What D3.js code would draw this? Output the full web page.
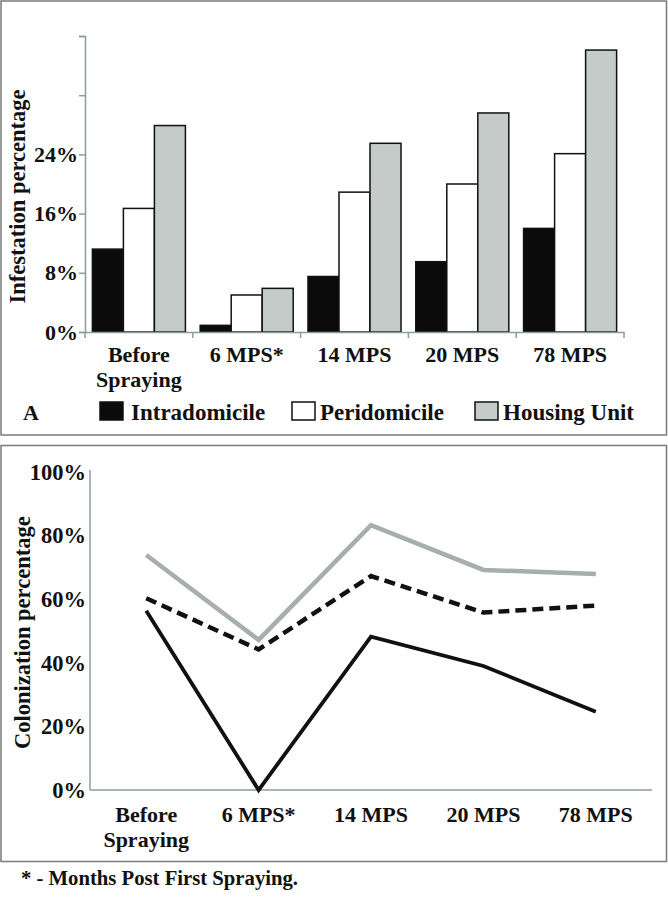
<!DOCTYPE html>
<html>
<head>
<meta charset="utf-8">
<script src="https://cdn.jsdelivr.net/npm/d3@7"></script>
<style>
  html, body { margin: 0; padding: 0; background: #fff; }
  svg { display: block; }
  text { font-family: "Liberation Serif", "Times New Roman", serif; font-weight: bold; fill: #111; }
</style>
</head>
<body>
<script>
// ---------- data ----------
const categories = ["Before Spraying", "6 MPS*", "14 MPS", "20 MPS", "78 MPS"];
const seriesNames = ["Intradomicile", "Peridomicile", "Housing Unit"];
// Panel A: infestation percentage (%)
const infestIntra   = [11.2, 0.9, 7.5, 9.5, 14.0];
const infestPeri    = [16.7, 5.0, 18.9, 20.0, 24.1];
const infestHousing = [27.9, 5.9, 25.5, 29.6, 38.1];
const infestTicks   = [0, 8, 16, 24, 32, 40];
const infestLabelled = [0, 8, 16, 24];
// Panel B: colonization percentage (%)
const colonIntra   = [56.4, 0.0, 48.2, 39.0, 24.6];
const colonPeri    = [60.3, 44.2, 67.3, 55.8, 58.0];
const colonHousing = [73.9, 47.2, 83.3, 69.2, 67.9];
const colonTicks   = [0, 20, 40, 60, 80, 100];
const footnote = "* - Months Post First Spraying.";
const panelLetter = "A";

const barFill = ["#0b0b0b", "#ffffff", "#c4cbc9"];
const axisColor = "#8d9d9d";

const svg = d3.select("body").append("svg").attr("width", 668).attr("height", 900);

// panel frames
svg.append("rect").attr("x", 1).attr("y", 1).attr("width", 665.5).attr("height", 434)
  .attr("fill", "none").attr("stroke", "#7a7a7a").attr("stroke-width", 1.5);
svg.append("rect").attr("x", 1).attr("y", 445.5).attr("width", 665.5).attr("height", 416)
  .attr("fill", "none").attr("stroke", "#7a7a7a").attr("stroke-width", 1.5);

// ---------- Panel A: grouped bars ----------
const x0 = d3.scaleBand().domain(categories).range([85, 624]).paddingInner(0.137).paddingOuter(0.0685);
const x1 = d3.scaleBand().domain(seriesNames).range([0, x0.bandwidth()]);
const yA = d3.scaleLinear().domain([0, 40]).range([332, 36]);

const barData = categories.map((c, i) => ({
  cat: c,
  vals: [infestIntra[i], infestPeri[i], infestHousing[i]]
}));

const gA = svg.append("g");
const groups = gA.selectAll("g.grp").data(barData).join("g")
  .attr("transform", d => `translate(${x0(d.cat)},0)`);
groups.selectAll("rect").data(d => d.vals.map((v, k) => ({ s: seriesNames[k], v, k }))).join("rect")
  .attr("x", d => x1(d.s))
  .attr("y", d => yA(d.v))
  .attr("width", x1.bandwidth())
  .attr("height", d => yA(0) - yA(d.v))
  .attr("fill", d => barFill[d.k])
  .attr("stroke", "#111")
  .attr("stroke-width", 1.5);

// y axis A
const yAxisA = d3.axisLeft(yA).tickValues(infestTicks).tickSize(6).tickPadding(1)
  .tickFormat(d => infestLabelled.includes(d) ? d + "%" : "");
const gyA = svg.append("g").attr("transform", "translate(85,0)").call(yAxisA);
gyA.select(".domain").attr("stroke", axisColor).attr("stroke-width", 1.5);
gyA.selectAll(".tick line").attr("stroke", axisColor).attr("stroke-width", 1.5);
gyA.selectAll(".tick text").attr("font-size", 22).attr("fill", "#111")
  .style("font-family", '"Liberation Serif", serif').style("font-weight", "bold");

// x axis A
const xAxisA = d3.axisBottom(x0).tickSize(0).tickPadding(0);
const gxA = svg.append("g").attr("transform", "translate(0,332)").call(xAxisA);
gxA.select(".domain").attr("stroke", axisColor).attr("stroke-width", 1.5);
// boundary ticks
const bounds = d3.range(categories.length + 1).map(i => x0.range()[0] + i * x0.step());
gxA.selectAll("line.bt").data(bounds).join("line").attr("class", "bt")
  .attr("x1", d => d).attr("x2", d => d).attr("y1", 0).attr("y2", 6)
  .attr("stroke", axisColor).attr("stroke-width", 1.5);

function wrapLabels(sel, base) {
  sel.selectAll(".tick text").each(function(d) {
    const t = d3.select(this);
    t.text(null).attr("y", base).attr("dy", null)
      .attr("font-size", 22).attr("fill", "#111")
      .style("font-family", '"Liberation Serif", serif').style("font-weight", "bold");
    const words = d === "Before Spraying" ? ["Before", "Spraying"] : [d];
    words.forEach((w, i) => {
      t.append("tspan").attr("x", 0).attr("dy", i === 0 ? 0 : 25.5).text(w);
    });
  });
}
wrapLabels(gxA, 29.7);

// y title A
svg.append("text").attr("transform", "translate(17.5,196.5) rotate(-90)")
  .attr("text-anchor", "middle").attr("dominant-baseline", "central")
  .attr("font-size", 22.5).text("Infestation percentage");

// legend
svg.append("text").attr("x", 23).attr("y", 420).attr("font-size", 22).text(panelLetter);
const legX = [100, 292, 475];
const legTextX = [131, 320, 503];
const leg = svg.append("g").selectAll("g").data(seriesNames).join("g");
leg.append("rect")
  .attr("x", (d, i) => legX[i]).attr("y", 402).attr("width", 23).attr("height", 18)
  .attr("fill", (d, i) => barFill[i]).attr("stroke", "#111").attr("stroke-width", 1.5);
leg.append("text")
  .attr("x", (d, i) => legTextX[i]).attr("y", 420).attr("font-size", 23).text(d => d);

// ---------- Panel B: lines ----------
const xB = d3.scalePoint().domain(categories).range([90, 652]).padding(0.5);
const yB = d3.scaleLinear().domain([0, 100]).range([790, 472]);

const gyB = svg.append("g").attr("transform", "translate(90,0)")
  .call(d3.axisLeft(yB).tickValues(colonTicks).tickSize(0).tickPadding(4).tickFormat(d => d + "%"));
gyB.select(".domain").attr("stroke", axisColor).attr("stroke-width", 1.5)
  .attr("d", `M0,${yB(0)}V${yB(100) - 2}`);
gyB.selectAll(".tick text").attr("font-size", 22.5).attr("fill", "#111")
  .style("font-family", '"Liberation Serif", serif').style("font-weight", "bold");

const xBandB = d3.scaleBand().domain(categories).range([90, 652]);
const gxB = svg.append("g").attr("transform", "translate(0,790)")
  .call(d3.axisBottom(xBandB).tickSize(0).tickPadding(0));
gxB.select(".domain").attr("stroke", axisColor).attr("stroke-width", 1.5)
  .attr("d", "M90,0H652");
wrapLabels(gxB, 31.7);

svg.append("text").attr("transform", "translate(22.5,632.7) rotate(-90)")
  .attr("text-anchor", "middle").attr("dominant-baseline", "central")
  .attr("font-size", 22.5).text("Colonization percentage");

const line = d3.line().x((d, i) => xB(categories[i])).y(d => yB(d));
const lineSpecs = [
  { vals: colonHousing, color: "#a6afad", width: 4.5, dash: null },
  { vals: colonPeri, color: "#111", width: 4.5, dash: "11,6" },
  { vals: colonIntra, color: "#111", width: 3.8, dash: null }
];
svg.append("g").selectAll("path").data(lineSpecs).join("path")
  .attr("d", d => line(d.vals))
  .attr("fill", "none")
  .attr("stroke", d => d.color)
  .attr("stroke-width", d => d.width)
  .attr("stroke-dasharray", d => d.dash)
  .attr("stroke-linejoin", "miter");

// footnote
svg.append("text").attr("x", 21).attr("y", 885).attr("font-size", 20.7).text(footnote);
</script>
</body>
</html>
